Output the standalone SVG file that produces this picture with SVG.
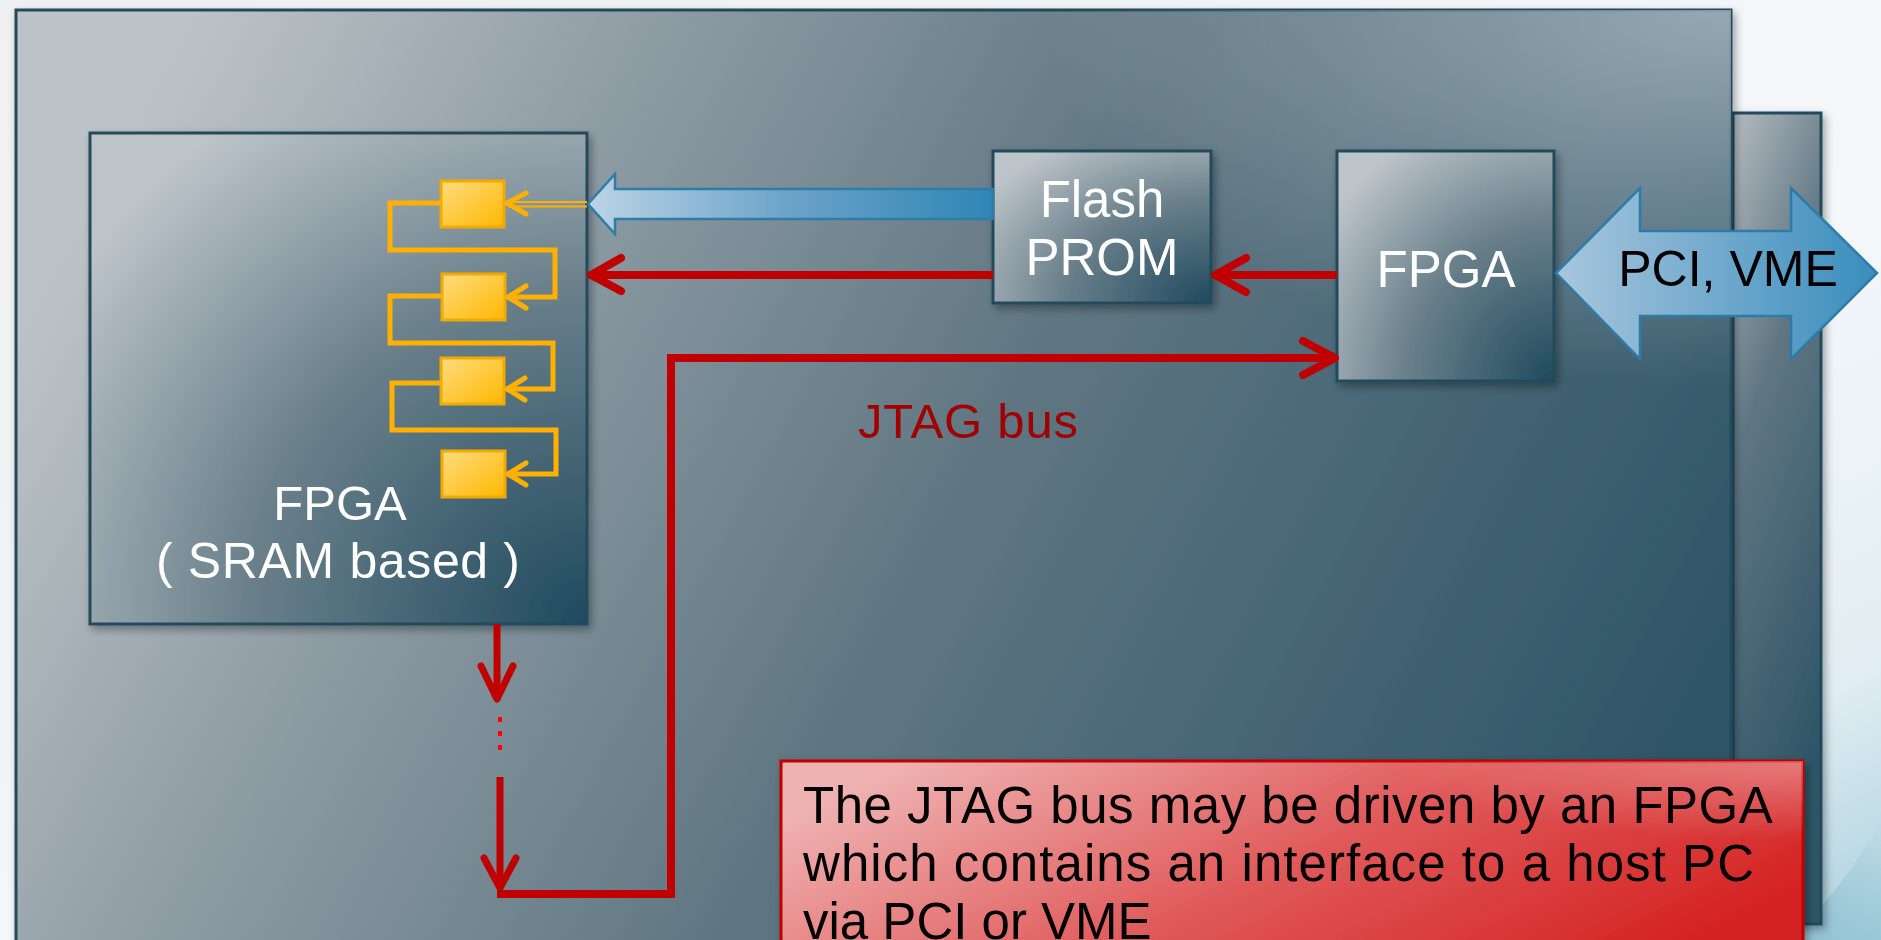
<svg xmlns="http://www.w3.org/2000/svg" width="1881" height="940" viewBox="0 0 1881 940">
<defs>
  <linearGradient id="bg" x1="0" y1="0" x2="1" y2="1">
    <stop offset="0" stop-color="#eef0f1"/>
    <stop offset="0.6" stop-color="#f4f8fa"/>
    <stop offset="0.85" stop-color="#e2eef3"/>
    <stop offset="1" stop-color="#a9d0dd"/>
  </linearGradient>
  <linearGradient id="swoosh" x1="0" y1="1" x2="1" y2="0">
    <stop offset="0" stop-color="#7fb8cc" stop-opacity="0.7"/>
    <stop offset="1" stop-color="#7fb8cc" stop-opacity="0"/>
  </linearGradient>
  <linearGradient id="panel" x1="0" y1="0.35" x2="1" y2="0.65">
    <stop offset="0" stop-color="#bcc3c7"/>
    <stop offset="0.25" stop-color="#8e9ca4"/>
    <stop offset="0.55" stop-color="#5f7682"/>
    <stop offset="1" stop-color="#2f5668"/>
  </linearGradient>
  <radialGradient id="panelHi" cx="1" cy="0" r="0.4">
    <stop offset="0" stop-color="#ffffff" stop-opacity="0.45"/>
    <stop offset="1" stop-color="#ffffff" stop-opacity="0"/>
  </radialGradient>
  <linearGradient id="panel2" x1="0" y1="0" x2="0.3" y2="1">
    <stop offset="0" stop-color="#b3bbc0"/>
    <stop offset="0.4" stop-color="#5f7682"/>
    <stop offset="1" stop-color="#2d5466"/>
  </linearGradient>
  <radialGradient id="box" cx="1" cy="1" r="1.25">
    <stop offset="0" stop-color="#1f4a5e"/>
    <stop offset="0.55" stop-color="#6a808b"/>
    <stop offset="1" stop-color="#bcc4c9"/>
  </radialGradient>
  <linearGradient id="ff" x1="0" y1="0" x2="1" y2="1">
    <stop offset="0" stop-color="#ffdc80"/>
    <stop offset="1" stop-color="#ffb800"/>
  </linearGradient>
  <linearGradient id="blueL" x1="0" y1="0" x2="1" y2="0">
    <stop offset="0" stop-color="#bcd3e6"/>
    <stop offset="0.5" stop-color="#6aa3c9"/>
    <stop offset="1" stop-color="#2f86b5"/>
  </linearGradient>
  <linearGradient id="blueD" x1="0" y1="0" x2="1" y2="0">
    <stop offset="0" stop-color="#a8c6dd"/>
    <stop offset="1" stop-color="#3a8dbd"/>
  </linearGradient>
  <linearGradient id="note" x1="0" y1="0.3" x2="1" y2="0.7">
    <stop offset="0" stop-color="#efb2b2"/>
    <stop offset="0.5" stop-color="#e05a5a"/>
    <stop offset="1" stop-color="#d42020"/>
  </linearGradient>
  <filter id="sh" x="-10%" y="-10%" width="130%" height="130%">
    <feDropShadow dx="3" dy="4" stdDeviation="4" flood-color="#000" flood-opacity="0.35"/>
  </filter>
  <style>
    .box { stroke:#234a5c; stroke-width:3; }
    .wt { font-family:"Liberation Sans", Arial, sans-serif; fill:#ffffff; text-anchor:middle; }
    .ff { fill:url(#ff); stroke:#f2a900; stroke-width:3; }
    .or { fill:none; stroke:#ffb000; stroke-width:5; stroke-linejoin:miter; }
    .orh { fill:none; stroke:#ffb000; stroke-width:5; stroke-linecap:round; stroke-linejoin:round; }
    .red { fill:none; stroke:#c00000; stroke-width:8; }
    .redh { fill:none; stroke:#c00000; stroke-width:8; stroke-linecap:round; stroke-linejoin:round; }
  </style>
</defs>

<rect x="0" y="0" width="1881" height="940" fill="url(#bg)"/>
<path d="M1790 940 C1830 900 1860 860 1881 820 L1881 940 Z" fill="url(#swoosh)"/>

<g id="board-back">
  <rect x="1733" y="113" width="88" height="811" fill="url(#panel2)" stroke="#234a5c" stroke-width="3" filter="url(#sh)"/>
</g>

<g id="board">
  <rect x="16" y="10" width="1715" height="945" fill="url(#panel)" stroke="#234a5c" stroke-width="3" filter="url(#sh)"/>
  <rect x="16" y="10" width="1715" height="945" fill="url(#panelHi)"/>
</g>

<g id="fpga-sram">
  <rect class="box" x="90" y="133" width="497" height="491" fill="url(#box)" filter="url(#sh)"/>
  <text class="wt" x="340" y="520" font-size="49">FPGA</text>
  <text class="wt" x="338" y="578" font-size="50" textLength="364" lengthAdjust="spacing">( SRAM based )</text>
</g>

<g id="flash-prom">
  <rect class="box" x="993" y="151" width="218" height="152" fill="url(#box)" filter="url(#sh)"/>
  <text class="wt" x="1102" y="217" font-size="51">Flash</text>
  <text class="wt" x="1102" y="275" font-size="51">PROM</text>
</g>

<g id="fpga-host">
  <rect class="box" x="1337" y="151" width="217" height="230" fill="url(#box)" filter="url(#sh)"/>
  <text class="wt" x="1446" y="287" font-size="51">FPGA</text>
</g>

<g id="flipflops">
  <rect class="ff" x="441" y="181" width="63" height="46"/>
  <rect class="ff" x="442" y="274" width="63" height="46"/>
  <rect class="ff" x="441" y="358" width="63" height="46"/>
  <rect class="ff" x="442" y="451" width="63" height="46"/>
</g>

<g id="connectors">
  <!-- scan chain -->
  <path class="or" d="M441 203 H390 V250 H555 V297 H507"/>
  <path class="or" d="M442 296 H390 V343 H553 V389 H506"/>
  <path class="or" d="M441 383 H392 V430 H556 V474 H507"/>
  <path class="orh" d="M526 193 L507 203 L526 214"/>
  <path class="orh" d="M526 286 L508 297 L526 308"/>
  <path class="orh" d="M525 378 L507 389 L525 400"/>
  <path class="orh" d="M526 463 L508 474 L526 485"/>
  <line x1="508" y1="202" x2="587" y2="202" stroke="#ffb000" stroke-width="2"/>
  <line x1="508" y1="206.5" x2="587" y2="206.5" stroke="#ffb000" stroke-width="2"/>

  <!-- config data arrow (blue) -->
  <path d="M588 204 L615 174 L615 189 L993 189 L993 219 L615 219 L615 234 Z" fill="url(#blueL)" stroke="#2f7ca6" stroke-width="2.5" stroke-linejoin="miter"/>

  <!-- PCI, VME double arrow -->
  <path d="M1556 273 L1640 188 L1640 231 L1791 231 L1791 188 L1877 273 L1791 359 L1791 316 L1640 316 L1640 359 Z" fill="url(#blueD)" stroke="#2e7ba8" stroke-width="2.5"/>

  <!-- JTAG: PROM -> FPGA -->
  <line class="red" x1="993" y1="275" x2="593" y2="275"/>
  <path class="redh" d="M621 258 L591 275 L621 291"/>
  <!-- JTAG: host FPGA -> PROM -->
  <line class="red" x1="1337" y1="275" x2="1216" y2="275"/>
  <path class="redh" d="M1246 258 L1215 275 L1246 292"/>

  <!-- JTAG chain down from FPGA -->
  <line x1="497" y1="624" x2="497" y2="696" stroke="#c00000" stroke-width="7"/>
  <path d="M481 666 L497 699 L513 666" fill="none" stroke="#c00000" stroke-width="7" stroke-linecap="round" stroke-linejoin="round"/>
  <line x1="500" y1="717" x2="500" y2="751" stroke="#ff0000" stroke-width="4" stroke-dasharray="5,9"/>
  <line x1="500" y1="777" x2="500" y2="884" stroke="#c00000" stroke-width="7"/>
  <path d="M484 858 L500 888 L516 858" fill="none" stroke="#c00000" stroke-width="7" stroke-linecap="round" stroke-linejoin="round"/>
  <path class="red" d="M497 894 H671 V358 H1330" stroke-linejoin="miter"/>
  <path class="redh" d="M1303 341 L1335 358 L1303 375"/>
</g>

<g id="jtag-label">
  <text x="858" y="438" font-family="Liberation Sans, Arial, sans-serif" font-size="49" fill="#a00000" textLength="220" lengthAdjust="spacing">JTAG bus</text>
</g>

<g id="note">
  <rect x="781" y="761" width="1022" height="200" fill="url(#note)" stroke="#c00000" stroke-width="3" filter="url(#sh)"/>
  <rect x="781" y="761" width="1022" height="200" fill="url(#panelHi)" opacity="0.7"/>
  <text font-family="Liberation Sans, Arial, sans-serif" font-size="51" fill="#000000">
    <tspan x="803" y="823" textLength="967" lengthAdjust="spacing">The JTAG bus may be driven by an FPGA</tspan>
    <tspan x="803" y="881" textLength="951" lengthAdjust="spacing">which contains an interface to a host PC</tspan>
    <tspan x="803" y="939">via PCI or VME</tspan>
  </text>
</g>

<g id="pci-label">
  <text x="1728" y="286" font-family="Liberation Sans, Arial, sans-serif" font-size="50" fill="#000000" text-anchor="middle">PCI, VME</text>
</g>
</svg>
